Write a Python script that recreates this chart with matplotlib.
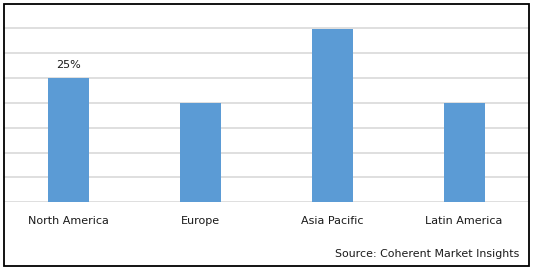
import matplotlib
matplotlib.use("Agg")
import matplotlib.pyplot as plt
from matplotlib.patches import Rectangle

categories = ["North America", "Europe", "Asia Pacific", "Latin America"]
values = [25, 20, 34.8, 20]
labels = ["25%", "", "", ""]
source = "Source: Coherent Market Insights"

W, H = 538, 272
fig = plt.figure(figsize=(W / 100, H / 100), dpi=100)
fig.patch.set_facecolor("white")

# axes in pixel coords
left, right = 2.8, 530
top_px, base_px = 3.5, 202.3
ax = fig.add_axes([left / W, 1 - base_px / H, (right - left) / W, (base_px - top_px) / H])
ax.set_xlim(-0.5, len(categories) - 0.5)
ax.set_ylim(0, 40)
x = list(range(len(categories)))
ax.bar(x, values, width=0.31, color="#5B9BD5", zorder=3)
ax.set_yticks([5 * i for i in range(8)])
ax.yaxis.grid(True, color="#D9D9D9", linewidth=1.2, zorder=0)
ax.set_yticklabels([])
ax.tick_params(axis="y", length=0)
ax.tick_params(axis="x", length=0, pad=10, labelsize=8, labelcolor="#1a1a1a")
ax.set_xticks(x)
ax.set_xticklabels(categories, family="DejaVu Sans")
for s in ax.spines.values():
    s.set_visible(False)
ax.patch.set_alpha(0)

for xi, v, lab in zip(x, values, labels):
    if lab:
        ax.annotate(lab, (xi, v), xytext=(0, 5.5), textcoords="offset points",
                    ha="center", va="bottom", fontsize=8, color="#1a1a1a")

fig.text(519.5 / W, 1 - 254 / H, source, ha="right", va="center", fontsize=7.9, color="#1a1a1a")

fig.add_artist(Rectangle((3.5 / W, 1 - 265.5 / H), (529 - 3.5) / W, (265.5 - 4.3) / H,
                         transform=fig.transFigure, fill=False, edgecolor="black", linewidth=1.3))

fig.savefig("out.png", dpi=100, facecolor="white")
